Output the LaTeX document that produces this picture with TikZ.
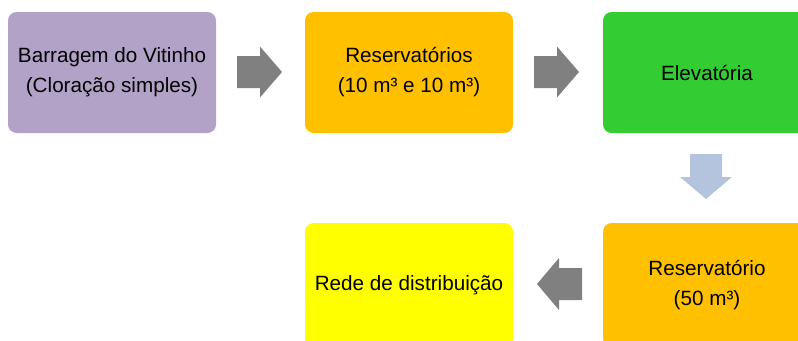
\documentclass[tikz,border=0pt]{standalone}
\usepackage{fontspec}
\setmainfont{Liberation Sans}
\definecolor{cpurple}{RGB}{179,162,199}
\definecolor{corange}{RGB}{255,192,0}
\definecolor{cgreen}{RGB}{51,204,51}
\definecolor{cyellow}{RGB}{255,255,0}
\definecolor{cgray}{RGB}{128,128,128}
\definecolor{cblue}{RGB}{180,196,222}
\tikzset{
  box/.style={rectangle, rounded corners=6.5pt, draw=none, minimum width=156pt, minimum height=90.75pt, inner sep=0pt, align=center, font=\fontsize{15.5pt}{22.5pt}\selectfont},
  grayarrow/.style={fill=cgray, draw=none},
  bluearrow/.style={fill=cblue, draw=none}
}
\begin{document}
\begin{tikzpicture}[x=0.75pt,y=-0.75pt]
\useasboundingbox (0,0) rectangle (798,340);
\clip (0,0) rectangle (798,340);
\node[box, fill=cpurple] (b1) at (112,72.5) {Barragem do Vitinho\\(Cloração simples)};
\node[box, fill=corange] (b2) at (409,72.5) {Reservatórios\\(10 m³ e 10 m³)};
\node[box, fill=cgreen] (b3) at (707,72.5) {Elevatória};
\node[box, fill=corange, minimum height=93pt] (b4) at (707,285) {Reservatório\\(50 m³)};
\node[box, fill=cyellow, minimum height=93pt] (b5) at (409,285) {Rede de distribuição};
% block arrow right between b1 and b2
\coordinate (a1) at (237,72);
\fill[grayarrow] (a1) ++(0,-16) -- ++(23,0) -- ++(0,-9.5) -- ++(22,25.5) -- ++(-22,25.5) -- ++(0,-9.5) -- ++(-23,0) -- cycle;
% block arrow right between b2 and b3
\coordinate (a2) at (534,72);
\fill[grayarrow] (a2) ++(0,-16) -- ++(23,0) -- ++(0,-9.5) -- ++(22,25.5) -- ++(-22,25.5) -- ++(0,-9.5) -- ++(-23,0) -- cycle;
% block arrow down between b3 and b4
\coordinate (a3) at (706,154);
\fill[bluearrow] (a3) ++(-16,0) -- ++(0,23) -- ++(-10,0) -- ++(26,22) -- ++(26,-22) -- ++(-10,0) -- ++(0,-23) -- cycle;
% block arrow left between b4 and b5
\coordinate (a4) at (582,284);
\fill[grayarrow] (a4) ++(0,-16) -- ++(-23,0) -- ++(0,-10) -- ++(-22,26) -- ++(22,26) -- ++(0,-10) -- ++(23,0) -- cycle;
\end{tikzpicture}
\end{document}
